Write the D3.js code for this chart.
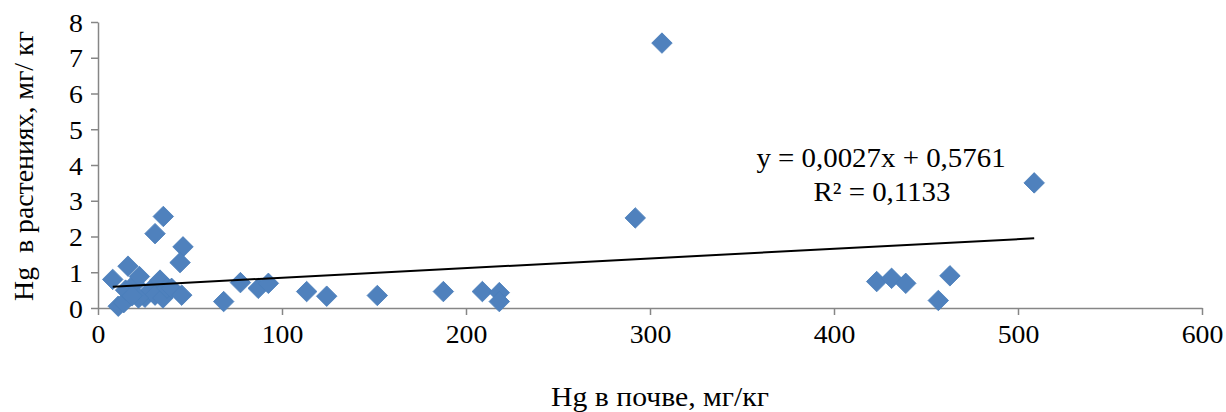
<!DOCTYPE html>
<html>
<head>
<meta charset="utf-8">
<script src="https://cdn.jsdelivr.net/npm/d3@7"></script>
<style>
  html, body { margin: 0; padding: 0; background: #fff; }
  svg { display: block; }
  svg text { font-family: "Liberation Serif", "Times New Roman", serif; }
</style>
</head>
<body>
<svg id="chart" width="1226" height="412"></svg>
<script>
// Hg content in soil (x, mg/kg) vs. in plants (y, mg/kg)
const soilHg = [
  306.5, 508.8, 292.0, 35.5, 31.0, 46.2, 44.6, 16.3, 8.0,
  68.3, 77.4, 87.1, 92.6, 113.4, 124.3, 151.8, 187.7, 208.9, 218.1, 218.1,
  423.2, 431.3, 439.0, 456.7, 463.0,
  11.0, 14.0, 15.0, 20.0, 22.5, 25.5, 28.5, 31.0, 33.7, 35.3, 37.5, 40.0, 45.5, 22.0, 18.5
];
const plantHg = [
  7.41, 3.50, 2.52, 2.56, 2.08, 1.71, 1.27, 1.17, 0.80,
  0.18, 0.71, 0.55, 0.69, 0.46, 0.33, 0.35, 0.46, 0.46, 0.43, 0.18,
  0.74, 0.83, 0.69, 0.21, 0.90,
  0.05, 0.15, 0.50, 0.68, 0.88, 0.30, 0.50, 0.36, 0.78, 0.28, 0.56, 0.55, 0.36, 0.28, 0.34
];
const xTicks = [0, 100, 200, 300, 400, 500, 600];
const yTicks = [0, 1, 2, 3, 4, 5, 6, 7, 8];
const slope = 0.0027;
const intercept = 0.5761;
const equationLabel = "y = 0,0027x + 0,5761";
const r2Label = "R² = 0,1133";
const xTitle = "Hg в почве, мг/кг";
const yTitle = "Hg  в растениях, мг/ кг";

const serif = "Liberation Serif";
const stretch = 1.07;   // slightly wide glyphs, as in the original chart export
const svg = d3.select("#chart");
const margin = { left: 98, right: 24, top: 22, bottom: 104 };
const W = 1226, H = 412;

const x = d3.scaleLinear().domain([0, 600]).range([margin.left, W - margin.right]);
const y = d3.scaleLinear().domain([0, 8]).range([H - margin.bottom, margin.top]);

const axisColor = "#868686";

// x axis
const gx = svg.append("g")
  .attr("transform", `translate(0,${y(0)})`)
  .call(d3.axisBottom(x).tickValues(xTicks).tickSize(7).tickSizeOuter(0).tickPadding(8));
// y axis
const gy = svg.append("g")
  .attr("transform", `translate(${x(0)},0)`)
  .call(d3.axisLeft(y).tickValues(yTicks).tickSize(7).tickSizeOuter(0).tickPadding(8));

[gx, gy].forEach(g => {
  g.attr("font-family", serif).attr("font-size", 26);
  g.select(".domain").attr("stroke", axisColor).attr("stroke-width", 1.5);
  g.selectAll(".tick line").attr("stroke", axisColor).attr("stroke-width", 1.5);
  g.selectAll(".tick text").attr("fill", "#000")
    .attr("transform", `scale(${stretch},1)`);
});
gy.selectAll(".tick text").attr("dy", "0.35em").attr("x", -15 / stretch);
gx.selectAll(".tick text").attr("dy", "0.78em");

// data points: diamonds
const pts = soilHg.map((v, i) => ({ x: v, y: plantHg[i] }));
const side = 14.5;
svg.append("g")
  .selectAll("rect")
  .data(pts)
  .join("rect")
  .attr("x", -side / 2)
  .attr("y", -side / 2)
  .attr("width", side)
  .attr("height", side)
  .attr("transform", d => `translate(${x(d.x)},${y(d.y)}) rotate(45)`)
  .attr("fill", "#4F81BD")
  .attr("stroke", "#4A7EBB")
  .attr("stroke-width", 0.8);

// linear trend line over the data range
const xMin = d3.min(soilHg), xMax = d3.max(soilHg);
svg.append("line")
  .attr("x1", x(xMin)).attr("y1", y(slope * xMin + intercept))
  .attr("x2", x(xMax)).attr("y2", y(slope * xMax + intercept))
  .attr("stroke", "#000")
  .attr("stroke-width", 2);

// text helper: centred label at (tx, ty), rotated by rot degrees
const label = (tx, ty, s, size, sx, rot = 0) => svg.append("text")
  .attr("transform", `translate(${tx},${ty}) rotate(${rot}) scale(${sx},1)`)
  .attr("text-anchor", "middle")
  .attr("font-family", serif)
  .attr("font-size", size)
  .style("white-space", "pre")
  .attr("fill", "#000")
  .text(s);

// trend equation
label(881, 167, equationLabel, 27, stretch);
label(882, 201, r2Label, 27, stretch);

// axis titles
label(660, 406, xTitle, 27, 1.1);
label(33, y(4) + 1, yTitle, 27, 1.03, -90);
</script>
</body>
</html>
